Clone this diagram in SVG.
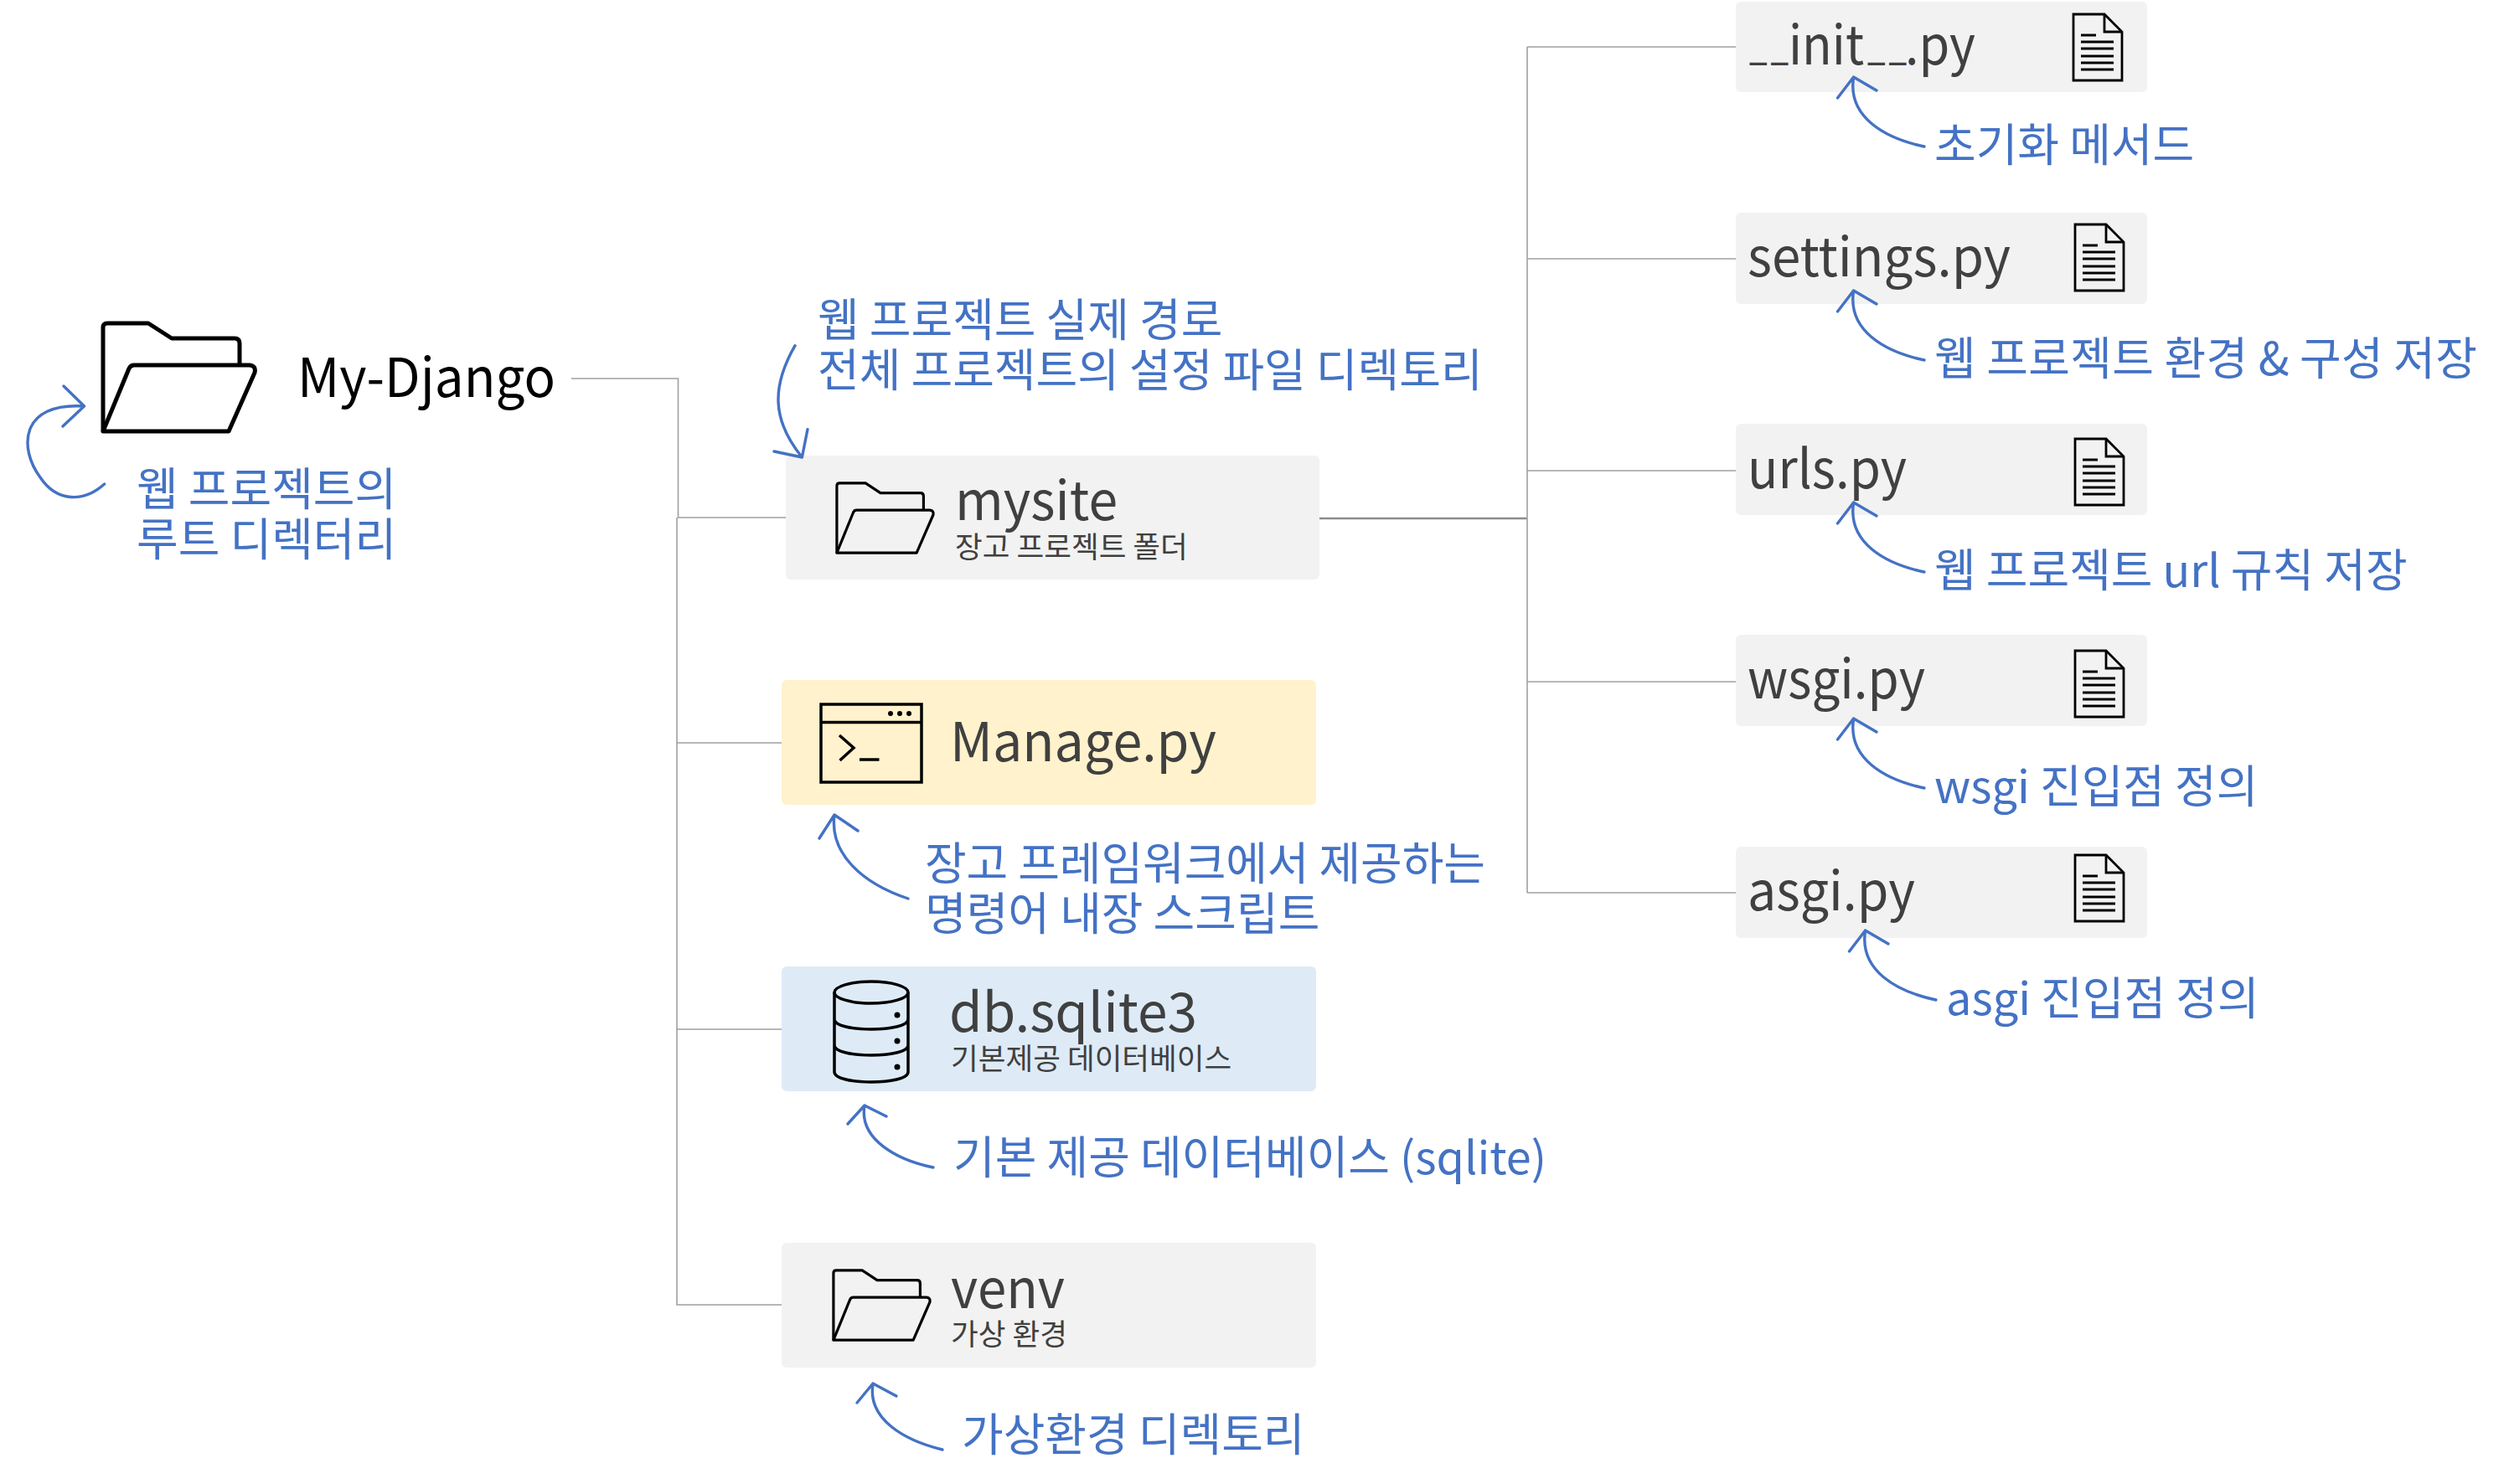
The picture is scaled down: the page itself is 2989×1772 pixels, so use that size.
<svg xmlns="http://www.w3.org/2000/svg" width="2989" height="1772" viewBox="0 0 2989 1772">
<style>
text{font-family:"Noto Sans CJK KR","Noto Sans",sans-serif}
.t{font-size:64px;fill:#404040}
.s{font-size:35.6px;fill:#404040}
.b{font-size:54px;fill:#4472c4}
.u{font-size:38px;font-weight:700;letter-spacing:4px}
.line{fill:none;stroke:#a0a0a0;stroke-width:1.6}
.main{stroke:#8c8c8c;stroke-width:2.4}
.arr{fill:none;stroke:#4472c4;stroke-width:3.4;stroke-linecap:round;stroke-linejoin:round}
.ic{fill:none;stroke:#000;stroke-width:5;stroke-linejoin:round}
.doc{fill:none;stroke:#000;stroke-width:2.8}
.win{fill:none;stroke:#000;stroke-width:3.5}
.gr{fill:#f2f2f2}
</style>
<defs>
<g id="folder"><path d="M3 132V8Q3 3 8 3H57L85 21H160Q166 21 166 27V53"/><path d="M3 132 34 57Q36 53 40 53H178Q186 54 184 62L153 132Z"/></g>
<g id="doc"><path d="M1 1H38L59 22V80H1Z"/><path d="M38 1V22H59"/><path d="M10 26H28M10 34H49M10 42H49M10 51H49M10 59H49M10 67H49"/></g>
<path id="ah" d="M2297 175C2250 165 2205 140 2212.600 92M2193.500 117 2212.600 92 2240 108"/>
</defs>
<g id="root"><use href="#folder" class="ic" transform="translate(120,383)"/><text class="t" x="355" y="474" style="fill:#000" textLength="308" lengthAdjust="spacingAndGlyphs">My-Django</text></g>
<g id="root-note"><text class="b" x="163" y="604">웹 프로젝트의</text><text class="b" x="163" y="664">루트 디렉터리</text></g>
<g id="mysite"><rect class="gr" x="938" y="544" width="637" height="148" rx="6"/><use href="#folder" class="ic" transform="translate(997,575) scale(.635,.645)"/><text class="t" x="1140" y="621" textLength="194" lengthAdjust="spacingAndGlyphs">mysite</text><text class="s" x="1140" y="666">장고 프로젝트 폴더</text></g>
<g id="mysite-note"><text class="b" x="976" y="402">웹 프로젝트 실제 경로</text><text class="b" x="976" y="462">전체 프로젝트의 설정 파일 디렉토리</text></g>
<g id="manage"><rect x="933" y="812" width="638" height="149" rx="6" fill="#fff2cc"/><g class="win"><rect x="980" y="841" width="120" height="93"/><path d="M980 862.500H1100M1002 878 1019 893 1002.500 908M1026 907H1049.500"/></g><circle cx="1063" cy="852" r="3"/><circle cx="1074" cy="852" r="3"/><circle cx="1085" cy="852" r="3"/><text class="t" x="1134" y="909" textLength="318" lengthAdjust="spacingAndGlyphs">Manage.py</text></g>
<g id="manage-note"><text class="b" x="1104" y="1051" textLength="669">장고 프레임워크에서 제공하는</text><text class="b" x="1104" y="1111">명령어 내장 스크립트</text></g>
<g id="db"><rect x="933" y="1154" width="638" height="149" rx="6" fill="#deebf7"/><g class="win"><ellipse cx="1040" cy="1185" rx="44" ry="13"/><path d="M996 1185V1280C996 1296 1084 1296 1084 1280V1185M996 1217C996 1233 1084 1233 1084 1217M996 1248C996 1264 1084 1264 1084 1248"/></g><circle cx="1071" cy="1212" r="3.500"/><circle cx="1071" cy="1243" r="3.500"/><circle cx="1071" cy="1274" r="3.500"/><text class="t" x="1133" y="1232" textLength="296" lengthAdjust="spacingAndGlyphs">db.sqlite3</text><text class="s" x="1135" y="1277">기본제공 데이터베이스</text></g>
<g id="db-note"><text class="b" x="1138" y="1402">기본 제공 데이터베이스 (sqlite)</text></g>
<g id="venv"><rect class="gr" x="933" y="1484" width="638" height="149" rx="6"/><use href="#folder" class="ic" transform="translate(993,1515) scale(.635,.645)"/><text class="t" x="1135" y="1562" textLength="136" lengthAdjust="spacingAndGlyphs">venv</text><text class="s" x="1135" y="1606">가상 환경</text></g>
<g id="venv-note"><text class="b" x="1148" y="1733">가상환경 디렉토리</text></g>
<g id="init"><rect class="gr" x="2072" y="2" width="491" height="108" rx="6"/><text class="t" y="77"><tspan class="u" x="2088" dy="-5">__</tspan><tspan x="2135" dy="5" textLength="90" lengthAdjust="spacingAndGlyphs">init</tspan><tspan class="u" x="2229" dy="-5">__</tspan><tspan x="2274" dy="5" textLength="84" lengthAdjust="spacingAndGlyphs">.py</tspan></text><use href="#doc" class="doc" transform="translate(2474,16)"/></g>
<g id="init-note"><text class="b" x="2309" y="193">초기화 메서드</text></g>
<g id="settings"><rect class="gr" x="2072" y="254" width="491" height="109" rx="6"/><text class="t" x="2086" y="330" textLength="314" lengthAdjust="spacingAndGlyphs">settings.py</text><use href="#doc" class="doc" transform="translate(2476,267)"/></g>
<g id="settings-note"><text class="b" x="2309" y="448" textLength="648">웹 프로젝트 환경 &amp; 구성 저장</text></g>
<g id="urls"><rect class="gr" x="2072" y="506" width="491" height="109" rx="6"/><text class="t" x="2086" y="583" textLength="190" lengthAdjust="spacingAndGlyphs">urls.py</text><use href="#doc" class="doc" transform="translate(2476,523)"/></g>
<g id="urls-note"><text class="b" x="2309" y="701">웹 프로젝트 url 규칙 저장</text></g>
<g id="wsgi"><rect class="gr" x="2072" y="758" width="491" height="109" rx="6"/><text class="t" x="2086" y="834" textLength="212" lengthAdjust="spacingAndGlyphs">wsgi.py</text><use href="#doc" class="doc" transform="translate(2476,776)"/></g>
<g id="wsgi-note"><text class="b" x="2309" y="959">wsgi 진입점 정의</text></g>
<g id="asgi"><rect class="gr" x="2072" y="1011" width="491" height="109" rx="6"/><text class="t" x="2086" y="1087" textLength="200" lengthAdjust="spacingAndGlyphs">asgi.py</text><use href="#doc" class="doc" transform="translate(2476,1020)"/></g>
<g id="asgi-note"><text class="b" x="2323" y="1212">asgi 진입점 정의</text></g>
<g id="connectors">
<path class="line" d="M682 452H809.500V618H938M808 618V1558H933M808 887H933M808 1229H933"/>
<path class="line main" d="M1575 619H1823"/>
<path class="line" d="M1823 56V1066M1823 56H2072M1823 309H2072M1823 562H2072M1823 814H2072M1823 1066H2072"/>
<path class="arr" d="M124.600 578C100 600 68 600 48 570C22 535 24 480 100.500 485M76 461 100.500 485 75 509"/>
<path class="arr" d="M949 412.700C922 460 920 500 957.400 546M924 539 957.400 546 964 512.700"/>
<path class="arr" d="M1084 1073C1030 1055 990 1020 996 973M978 1001 996 973 1024 992"/>
<path class="arr" d="M1114 1394C1070 1385 1025 1360 1032 1320M1012 1342 1032 1320 1058 1333"/>
<path class="arr" d="M1125 1731C1080 1720 1035 1695 1042 1652M1023 1675 1042 1652 1070 1667"/>
<use href="#ah" class="arr"/>
<use href="#ah" class="arr" y="255"/>
<use href="#ah" class="arr" y="508"/>
<use href="#ah" class="arr" y="766"/>
<use href="#ah" class="arr" x="14" y="1019"/>
</g>
</svg>
